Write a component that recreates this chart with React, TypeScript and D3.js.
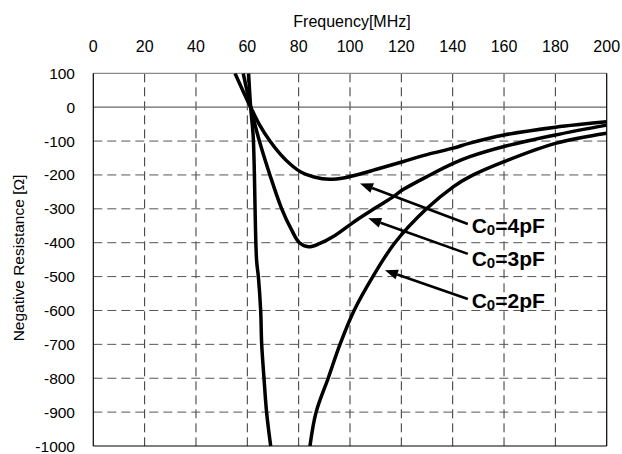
import React from "react";
import * as d3 from "d3";

// ---- data ----
const xTicks = [0, 20, 40, 60, 80, 100, 120, 140, 160, 180, 200];
const yTicks = [100, 0, -100, -200, -300, -400, -500, -600, -700, -800, -900, -1000];

const freq4 = [55.2, 58.3, 61.3, 64.6, 68.8, 73, 77, 81, 86, 92, 98, 105, 110, 120.5, 130, 140.2, 146.7, 160, 180, 200];
const res4 = [100, 48, 0, -50, -100, -140, -170, -192, -206, -213, -208, -195, -184, -161, -140, -121, -106, -82, -59, -43];

const freq3 = [58.4, 61.3, 64.7, 68.8, 73.4, 77.3, 80.3, 83.8, 88.3, 93.5, 102.6, 110, 116.9, 120.5, 131.2, 140.2, 146.7, 160, 180, 200];
const res3 = [100, 0, -100, -200, -300, -363, -400, -412, -402, -382, -333, -297, -264, -244, -200, -166, -146, -116, -82, -53];

const freq2a = [60.5, 61.3, 62.3, 63.6, 64.3, 65.2, 65.6, 66.5, 67.5, 69.1];
const res2a = [100, 0, -87, -451, -500, -600, -700, -800, -900, -1000];
const freq2b = [84.4, 86.8, 91.5, 96.1, 101.6, 108.9, 117.5, 129.8, 140.2, 146.7, 160, 180, 200];
const res2b = [-1000, -900, -800, -700, -600, -500, -400, -300, -235, -205, -161, -107, -77];

const labelNames = ["4pF", "3pF", "2pF"];
// annotation anchors in data units (arrow tip, arrow tail, label position)
const tipFreq = [103.9, 107.1, 113.6];
const tipRes = [-225, -328, -481];
const tailFreq = [145.9, 145.9, 145.9];
const tailRes = [-345, -433, -566];
const labelFreq = [147.4, 147.4, 147.4];
const labelRes = [-371, -469, -593];

const W = 622;
const H = 454;
const left = 93.3;
const right = 606.7;
const top = 73.3;
const bottom = 446;

export default function App() {
  const x = d3.scaleLinear().domain([0, 200]).range([left, right]);
  const y = d3.scaleLinear().domain([100, -1000]).range([top, bottom]);

  const line = d3
    .line<[number, number]>()
    .x((d) => x(d[0]))
    .y((d) => y(d[1]))
    .curve(d3.curveCatmullRom.alpha(0.5));

  const zip = (a: number[], b: number[]) => a.map((v, i) => [v, b[i]] as [number, number]);
  const curves = [zip(freq4, res4), zip(freq3, res3), zip(freq2a, res2a), zip(freq2b, res2b)];

  const font = "'Liberation Sans', Arial, sans-serif";

  const arrows = labelNames.map((_, i) => {
    const x1 = x(tailFreq[i]);
    const y1 = y(tailRes[i]);
    const x2 = x(tipFreq[i]);
    const y2 = y(tipRes[i]);
    const ang = Math.atan2(y2 - y1, x2 - x1);
    const L = 13;
    const Wd = 5;
    const bx = x2 - L * Math.cos(ang);
    const by = y2 - L * Math.sin(ang);
    const px = -Math.sin(ang) * Wd;
    const py = Math.cos(ang) * Wd;
    return { x1, y1, bx, by, x2, y2, px, py };
  });

  return (
    <svg
      width={W}
      height={H}
      style={{ position: "absolute", left: 0, top: 0, background: "#fff" }}
      fontFamily={font}
    >
      <defs>
        <clipPath id="plot">
          <rect x={left} y={top} width={right - left} height={bottom - top} />
        </clipPath>
      </defs>
      <rect x={0} y={0} width={W} height={H} fill="#fff" />

      {/* grid */}
      {xTicks.slice(1, -1).map((t) => (
        <line key={"gx" + t} x1={x(t)} x2={x(t)} y1={top} y2={bottom} stroke="#333" strokeWidth={1} strokeDasharray="9,5" />
      ))}
      {yTicks.filter((t) => t !== 0 && t !== 100 && t !== -1000).map((t) => (
        <line key={"gy" + t} x1={left} x2={right} y1={y(t)} y2={y(t)} stroke="#555" strokeWidth={1} strokeDasharray="9,5" />
      ))}
      <line x1={left} x2={right} y1={y(0)} y2={y(0)} stroke="#666" strokeWidth={1.2} />
      <line x1={left} x2={right} y1={top} y2={top} stroke="#888" strokeWidth={1.2} />
      <line x1={left} x2={left} y1={top} y2={bottom} stroke="#000" strokeWidth={1.2} />
      <line x1={right} x2={right} y1={top} y2={bottom} stroke="#000" strokeWidth={1.2} />
      <line x1={left} x2={right} y1={bottom} y2={bottom} stroke="#000" strokeWidth={1.2} />

      {/* curves */}
      <g clipPath="url(#plot)">
        {curves.map((c, i) => (
          <path key={i} d={line(c) || ""} fill="none" stroke="#000" strokeWidth={3.5} strokeLinejoin="round" />
        ))}
      </g>

      {/* x ticks (top) */}
      {xTicks.map((t) => (
        <text key={"xt" + t} x={x(t)} y={51.7} textAnchor="middle" fontSize={16} fill="#000">
          {t}
        </text>
      ))}
      <text x={352} y={26.7} textAnchor="middle" fontSize={16} fill="#000">
        Frequency[MHz]
      </text>

      {/* y ticks */}
      {yTicks.map((t) => (
        <text key={"yt" + t} x={75} y={y(t) + 5.5} textAnchor="end" fontSize={15.5} fill="#000">
          {t}
        </text>
      ))}
      <text
        transform={`translate(24,258) rotate(-90)`}
        textAnchor="middle"
        fontSize={15.5}
        fill="#000"
      >
        Negative Resistance [Ω]
      </text>

      {/* annotations */}
      {arrows.map((a, i) => (
        <g key={"ar" + i}>
          <line x1={a.x1} y1={a.y1} x2={a.bx} y2={a.by} stroke="#000" strokeWidth={2.6} />
          <polygon
            points={`${a.x2},${a.y2} ${a.bx + a.px},${a.by + a.py} ${a.bx - a.px},${a.by - a.py}`}
            fill="#000"
          />
        </g>
      ))}
      {labelNames.map((n, i) => (
        <text key={"lb" + i} x={x(labelFreq[i])} y={y(labelRes[i])} fontSize={21} fontWeight="bold" fill="#000">
          C
          <tspan fontSize={15} dy={2}>0</tspan>
          <tspan dy={-2}>={n}</tspan>
        </text>
      ))}
    </svg>
  );
}
